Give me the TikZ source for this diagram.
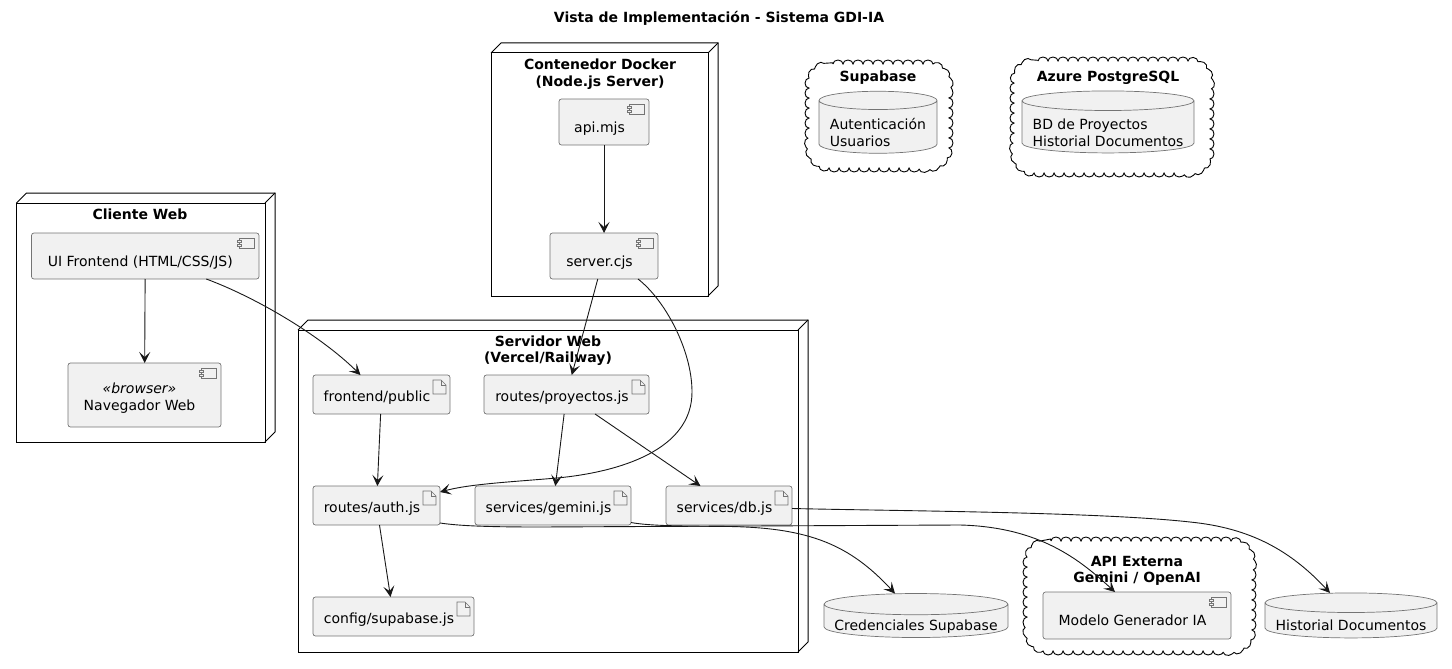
\documentclass[tikz,border=0pt]{standalone}
\usepackage{fontspec}
\setmainfont{DejaVu Sans}
\usepackage{tikz}
\usetikzlibrary{positioning}
\usetikzlibrary{arrows.meta}
\usetikzlibrary{calc}
\usetikzlibrary{shapes.geometric}
\usetikzlibrary{decorations.pathmorphing}

\definecolor{boxFill}{HTML}{F1F1F1}
\definecolor{boxLine}{HTML}{181818}

\tikzset{
  x=1pt, y=-1pt,
  every node/.style={font=\fontsize{14}{16.5}\selectfont, inner sep=0pt, outer sep=0pt},
  titleText/.style={font=\fontsize{14}{16.5}\selectfont\bfseries, align=center, text=black},
  iconLine/.style={draw=boxLine!60, line width=0.7pt, sharp corners},
  boxBase/.style={draw=boxLine!60, line width=0.7pt, fill=boxFill, rounded corners=2.5pt},
  compIcon/.style={path picture={
      \coordinate (corner) at (path picture bounding box.north east);
      \draw[iconLine] ([shift={(-20,5)}]corner) rectangle ([shift={(-5,15)}]corner);
      \draw[iconLine, fill=boxFill] ([shift={(-22,7)}]corner) rectangle ([shift={(-18,9)}]corner);
      \draw[iconLine, fill=boxFill] ([shift={(-22,11)}]corner) rectangle ([shift={(-18,13)}]corner);
    }},
  compBox/.style={boxBase, compIcon, text height=23pt, text depth=3pt},
  fileBox/.style={boxBase, text height=17.5pt, text depth=3pt, path picture={
      \coordinate (corner) at (path picture bounding box.north east);
      \draw[iconLine] ([shift={(-17,5)}]corner) -- ([shift={(-9,5)}]corner)
        -- ([shift={(-4,10)}]corner) -- ([shift={(-4,19)}]corner) -- ([shift={(-17,19)}]corner) -- cycle;
      \draw[iconLine] ([shift={(-9,5)}]corner) -- ([shift={(-9,10)}]corner) -- ([shift={(-4,10)}]corner);
    }},
  dbBox/.style={cylinder, shape border rotate=90, shape aspect=#1, draw=boxLine!60, line width=0.7pt,
    cylinder uses custom fill, cylinder end fill=boxFill, cylinder body fill=boxFill},
  clusterBox/.style={draw=black, line width=1pt},
  clusterBack/.style={draw=black, line width=1pt},
  cloudBox/.style={inner sep=0pt},
  cloudLine/.style={draw=black, line width=0.9pt, decorate,
    decoration={bumps, segment length=20pt, amplitude=4pt}},
  link/.style={draw=boxLine, line width=0.9pt, -{Stealth[length=11pt, width=11pt, inset=5pt]}},
}

% contorno de nube alrededor de un nodo
\newcommand{\cloudOutline}[1]{
  \draw[cloudLine] ($(#1.north west)+(24,0)$) -- ($(#1.north east)+(-24,0)$)
    .. controls ($(#1.north east)+(-10,0)$) and ($(#1.north east)+(0,10)$) .. ($(#1.north east)+(0,24)$)
    -- ($(#1.south east)+(0,-24)$)
    .. controls ($(#1.south east)+(0,-10)$) and ($(#1.south east)+(-10,0)$) .. ($(#1.south east)+(-24,0)$)
    -- ($(#1.south west)+(24,0)$)
    .. controls ($(#1.south west)+(10,0)$) and ($(#1.south west)+(0,-10)$) .. ($(#1.south west)+(0,-24)$)
    -- ($(#1.north west)+(0,24)$)
    .. controls ($(#1.north west)+(0,10)$) and ($(#1.north west)+(10,0)$) .. cycle;
}
% texto de base de datos, sin altura propia
\newcommand{\dbText}[2]{\raisebox{#1}[0pt][0pt]{\begin{tabular}{@{}l@{}}#2\end{tabular}}}

\begin{document}
\begin{tikzpicture}
  \useasboundingbox (0,0) rectangle (1452,669);

  \node[titleText] (Titulo) at (719,18) {Vista de Implementación - Sistema GDI-IA};

  % grupos
  \node[clusterBox, minimum width=248.5pt, minimum height=239pt] (Cliente) at (140.75,322.5) {};
  \node[titleText] (ClienteLabel) at (140,214) {Cliente Web};
  \node[clusterBox, minimum width=217pt, minimum height=243pt] (Docker) at (599.5,174.5) {};
  \node[titleText] (DockerLabel) at (600,74) {Contenedor Docker\\(Node.js Server)};
  \node[clusterBox, minimum width=500pt, minimum height=322pt] (Servidor) at (548,491) {};
  \node[titleText] (ServidorLabel) at (548,350.5) {Servidor Web\\(Vercel/Railway)};

  \foreach \grupo in {Cliente,Docker,Servidor} {
    \draw[clusterBack] (\grupo.north west) -- ++(10,-10) -- ($(\grupo.north east)+(10,-10)$)
      -- ($(\grupo.south east)+(10,-10)$) -- (\grupo.south east);
    \draw[clusterBack] (\grupo.north east) -- ++(10,-10);
  }

  \node[cloudBox, minimum width=140pt, minimum height=104pt] (Supabase) at (879,116) {};
  \node[titleText] (SupabaseLabel) at (878,78) {Supabase};
  \node[cloudBox, minimum width=196pt, minimum height=112pt] (Azure) at (1112,117) {};
  \node[titleText] (AzureLabel) at (1108,78) {Azure PostgreSQL};
  \node[cloudBox, minimum width=225pt, minimum height=110pt] (Externa) at (1139.5,596) {};
  \node[titleText] (ExternaLabel) at (1137,571) {API Externa\\Gemini / OpenAI};
  \foreach \nube in {Supabase,Azure,Externa} {
    \cloudOutline{\nube}
  }

  % componentes
  \node[compBox, minimum width=227.5pt, minimum height=46pt] (Frontend) at (145.25,256) {UI Frontend (HTML/CSS/JS)\kern10pt};
  \node[boxBase, compIcon, minimum width=153pt, minimum height=64pt, align=center] (Navegador) at (144.5,395) {\\[0pt]\hspace*{-10pt}\textit{«browser»}\\\hspace*{-10pt}Navegador Web};
  \node[compBox, minimum width=90pt, minimum height=46pt] (Api) at (604,122) {api.mjs\kern9pt};
  \node[compBox, minimum width=108pt, minimum height=46pt] (ServerCjs) at (604,256) {server.cjs\kern9pt};
  \node[compBox, minimum width=188pt, minimum height=47pt] (Modelo) at (1137,615.5) {Modelo Generador IA\kern9pt};

  % archivos
  \node[fileBox, minimum width=137pt, minimum height=39pt] (Public) at (381.5,394.5) {frontend/public\kern9pt};
  \node[fileBox, minimum width=165pt, minimum height=39pt] (Proyectos) at (566.5,394.5) {routes/proyectos.js\kern9pt};
  \node[fileBox, minimum width=127pt, minimum height=39pt] (Auth) at (376.5,505.5) {routes/auth.js\kern9pt};
  \node[fileBox, minimum width=156pt, minimum height=39pt] (Gemini) at (553,505.5) {services/gemini.js\kern9pt};
  \node[fileBox, minimum width=126pt, minimum height=39pt] (Db) at (729,505.5) {services/db.js\kern9pt};
  \node[fileBox, minimum width=161pt, minimum height=39pt] (Config) at (393.5,616.5) {config/supabase.js\kern9pt};

  % bases de datos
  \node[dbBox=0.19, minimum width=118pt, minimum height=62pt] (AuthDb) at (878,127) {\dbText{-11pt}{Autenticación\\[0.5pt]Usuarios}};
  \node[dbBox=0.13, minimum width=172pt, minimum height=62pt] (ProyectosDb) at (1108,127) {\dbText{-11pt}{BD de Proyectos\\[0.5pt]Historial Documentos}};
  \node[dbBox=0.13, minimum width=184pt, minimum height=44pt] (Credenciales) at (916,621) {\dbText{-10pt}{Credenciales Supabase}};
  \node[dbBox=0.13, minimum width=172pt, minimum height=45pt] (Historial) at (1351,620.5) {\dbText{-10pt}{Historial Documentos}};

  % conexiones
  \draw[link] (Frontend) -- (Navegador);
  \draw[link] (Api) -- (ServerCjs);
  \draw[link] (Public) -- (Auth);
  \draw[link] (ServerCjs) -- (Proyectos);
  \draw[link] (Proyectos) -- (Gemini);
  \draw[link] (Proyectos) -- (Db);
  \draw[link] (Auth) -- (Config);

  \draw[link] ([xshift=61pt]Frontend.south) .. controls (255,297) and (320,335) .. ([xshift=-21pt]Public.north);
  \draw[link] ([xshift=34pt]ServerCjs.south) .. controls (665,300) and (692,350) .. (692,392)
    .. controls (692,450) and (620,472) .. (557,478) .. controls (510,482) and (470,484) .. ([yshift=13.5pt]Auth.east);
  \draw[link] ([yshift=-17.5pt]Auth.east) .. controls (460,526) and (490,527) .. (540,527)
    -- (960,525) .. controls (1040,527) and (1080,560) .. ([xshift=-22pt]Modelo.north);
  \draw[link] ([yshift=-17pt]Gemini.east) .. controls (650,526) and (680,526) .. (730,526.5)
    .. controls (810,528) and (850,545) .. ([xshift=-21pt]Credenciales.north);
  \draw[link] ([yshift=-3pt]Db.east) .. controls (900,511) and (1100,512) .. (1190,522)
    .. controls (1250,528) and (1290,550) .. ([xshift=-21pt]Historial.north);
\end{tikzpicture}
\end{document}
